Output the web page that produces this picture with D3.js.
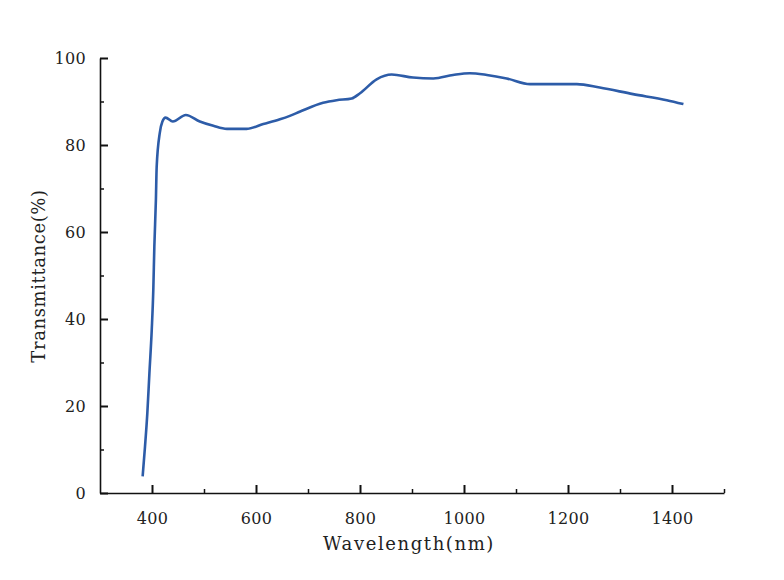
<!DOCTYPE html>
<html>
<head>
<meta charset="utf-8">
<script src="https://cdn.jsdelivr.net/npm/d3@7"></script>
<style>
  html, body { margin: 0; padding: 0; background: #fff; }
  svg text { font-family: "DejaVu Serif", "Liberation Serif", serif; fill: #222; }
</style>
</head>
<body>
<div id="chart"></div>
<script>
// Transmittance spectrum, values
var wavelength = [382, 386.5, 391, 395, 399.5, 402.5, 404.5, 407.5, 409, 415, 420, 426,
  440, 465, 492, 518, 544, 582, 614, 646, 665, 685, 729, 755, 784, 800, 832, 861,
  902, 941, 979, 1011, 1044, 1082, 1127, 1217, 1261, 1325, 1390, 1422];
var transmittance = [3.8, 10.6, 18.3, 27.5, 37.5, 46.7, 56.6, 67.4, 75, 82.8, 85.4, 86.3,
  85.4, 86.9, 85.4, 84.4, 83.7, 83.7, 84.8, 85.9, 86.7, 87.7, 89.7, 90.3, 90.7, 91.9, 95.1, 96.2,
  95.5, 95.3, 96.1, 96.5, 96.1, 95.3, 94.0, 94.0, 93.2, 91.7, 90.3, 89.4];

var xDomain = [300, 1500];
var yDomain = [0, 100];
var xMajor = [400, 600, 800, 1000, 1200, 1400];
var xMinor = [500, 700, 900, 1100, 1300, 1500];
var yMajor = [0, 20, 40, 60, 80, 100];
var yMinor = [10, 30, 50, 70, 90];

var width = 784, height = 580;
var margin = { top: 58, right: 60, bottom: 87, left: 100 };
var innerW = width - margin.left - margin.right;
var innerH = height - margin.top - margin.bottom;

var svg = d3.select('#chart').append('svg')
  .attr('width', width)
  .attr('height', height);

var g = svg.append('g')
  .attr('transform', 'translate(' + margin.left + ',' + margin.top + ')');

var x = d3.scaleLinear().domain(xDomain).range([0, innerW]);
var y = d3.scaleLinear().domain(yDomain).range([innerH, 0]);

// --- Axes (ticks point inward) ---
function styleAxis(sel) {
  sel.attr('font-family', null);
  sel.select('.domain').attr('stroke', '#111').attr('stroke-width', 1.6);
  sel.selectAll('.tick line').attr('stroke', '#111').attr('stroke-width', 2);
  sel.selectAll('.tick text').attr('font-size', '16px').attr('letter-spacing', '0.3px');
}

var xAxis = g.append('g')
  .attr('transform', 'translate(0,' + innerH + ')')
  .call(d3.axisBottom(x).tickValues(xMajor).tickFormat(d3.format('d'))
    .tickSizeInner(-8).tickSizeOuter(0).tickPadding(20));
styleAxis(xAxis);

var xAxisMinor = g.append('g')
  .attr('transform', 'translate(0,' + innerH + ')')
  .call(d3.axisBottom(x).tickValues(xMinor).tickSizeInner(-4).tickSizeOuter(0).tickFormat(''));
styleAxis(xAxisMinor);
xAxisMinor.select('.domain').remove();
xAxisMinor.selectAll('.tick line').attr('stroke-width', 1.5);

var yAxis = g.append('g')
  .call(d3.axisLeft(y).tickValues(yMajor).tickFormat(d3.format('d'))
    .tickSizeInner(-8).tickSizeOuter(0).tickPadding(14));
styleAxis(yAxis);

var yAxisMinor = g.append('g')
  .call(d3.axisLeft(y).tickValues(yMinor).tickSizeInner(-4).tickSizeOuter(0).tickFormat(''));
styleAxis(yAxisMinor);
yAxisMinor.select('.domain').remove();
yAxisMinor.selectAll('.tick line').attr('stroke-width', 1.5);

// --- Curve ---
var line = d3.line()
  .x(function (d, i) { return x(wavelength[i]); })
  .y(function (d) { return y(d); })
  .curve(d3.curveMonotoneX);

g.append('path')
  .datum(transmittance)
  .attr('fill', 'none')
  .attr('stroke', '#2D5CA8')
  .attr('stroke-width', 2.6)
  .attr('stroke-linejoin', 'round')
  .attr('d', line);

// --- Axis titles ---
svg.append('text')
  .attr('x', 409)
  .attr('y', 550)
  .attr('text-anchor', 'middle')
  .attr('font-size', '18px')
  .attr('letter-spacing', '1.6px')
  .text('Wavelength(nm)');

svg.append('text')
  .attr('transform', 'translate(45,276) rotate(-90)')
  .attr('text-anchor', 'middle')
  .attr('font-size', '18px')
  .attr('letter-spacing', '0.6px')
  .text('Transmittance(%)');
</script>
</body>
</html>
